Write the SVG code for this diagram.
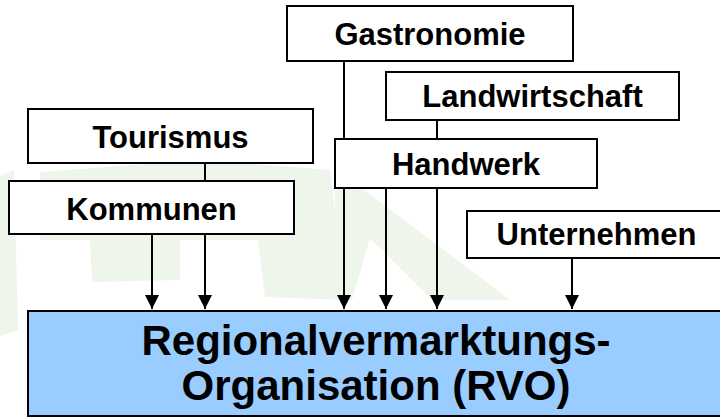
<svg xmlns="http://www.w3.org/2000/svg" width="720" height="418" viewBox="0 0 720 418">
<style>
.box{fill:#ffffff;stroke:#000000;stroke-width:2}
.rvo{fill:#99ccff;stroke:#000000;stroke-width:2}
.lbl{font-family:"Liberation Sans",Arial,sans-serif;font-weight:bold;font-size:31px;fill:#000000;text-anchor:middle}
.big{font-family:"Liberation Sans",Arial,sans-serif;font-weight:bold;font-size:42px;fill:#000000;text-anchor:middle}
.wm{fill:#eef5ea}
.ln{stroke:#000000;stroke-width:2;fill:none}
</style>
<defs>
<marker id="arr" markerUnits="userSpaceOnUse" markerWidth="16" markerHeight="16" viewBox="0 0 16 16" refX="15" refY="8" orient="auto">
<path d="M1,1 L15,8 L1,15 Z" fill="#000000"/>
</marker>
</defs>
<rect width="720" height="418" fill="#ffffff"/>
<g id="watermark">
<polygon class="wm" points="0,176 14,170 18,330 0,336"/>
<polygon class="wm" points="40,172 200,160 330,170 345,300 265,297 258,240 180,240 180,280 92,282 90,240 40,240"/>
<polygon class="wm" points="335,190 360,187 510,300 432,300 370,238 352,300 335,300"/>
</g>
<g id="connectors">
<line class="ln" x1="205" y1="163" x2="205" y2="309" marker-end="url(#arr)"/>
<line class="ln" x1="152" y1="234" x2="152" y2="309" marker-end="url(#arr)"/>
<line class="ln" x1="344" y1="61" x2="344" y2="309" marker-end="url(#arr)"/>
<line class="ln" x1="386" y1="188" x2="386" y2="309" marker-end="url(#arr)"/>
<line class="ln" x1="437" y1="120" x2="437" y2="309" marker-end="url(#arr)"/>
<line class="ln" x1="572" y1="258" x2="572" y2="309" marker-end="url(#arr)"/>
</g>
<g id="gastronomie">
<rect class="box" x="287" y="6" width="286" height="55"/>
<text class="lbl" x="430" y="45">Gastronomie</text>
</g>
<g id="landwirtschaft">
<rect class="box" x="386" y="72" width="293" height="48"/>
<text class="lbl" x="532.5" y="107">Landwirtschaft</text>
</g>
<g id="tourismus">
<rect class="box" x="28" y="109" width="285" height="54"/>
<text class="lbl" x="170.5" y="148">Tourismus</text>
</g>
<g id="handwerk">
<rect class="box" x="335" y="139" width="262" height="49"/>
<text class="lbl" x="466" y="175">Handwerk</text>
</g>
<g id="kommunen">
<rect class="box" x="9" y="181" width="285" height="53"/>
<text class="lbl" x="151.5" y="220">Kommunen</text>
</g>
<g id="unternehmen">
<rect class="box" x="467" y="211" width="262" height="47"/>
<text class="lbl" x="596.5" y="245">Unternehmen</text>
</g>
<g id="rvo">
<rect class="rvo" x="28" y="311" width="700" height="105"/>
<text class="big" x="376" y="355">Regionalvermarktungs-</text>
<text class="big" x="376" y="400">Organisation (RVO)</text>
</g>
</svg>
